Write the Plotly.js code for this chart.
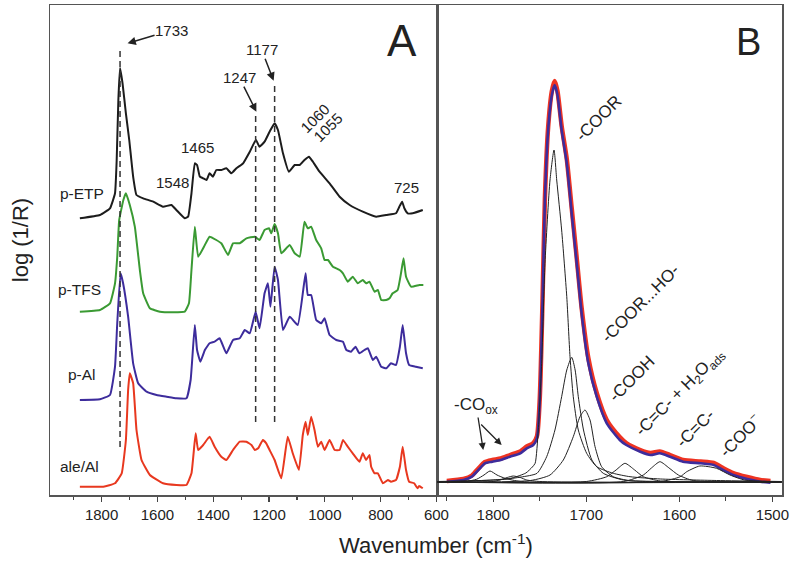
<!DOCTYPE html>
<html>
<head>
<meta charset="utf-8">
<script src="https://cdn.plot.ly/plotly-3.0.1.min.js"></script>
<style>
  body { margin: 0; background: #fff; }
  #myDiv { width: 794px; height: 569px; }
</style>
</head>
<body>
<div id="myDiv"></div>
<script>
// ---- Panel A : spectra, offset, wavenumber (cm-1) / log(1/R) arbitrary units
let wnETP = [1878,1806,1770,1752,1746,1740,1734,1725,1713,1701,1687,1675,1651,1615,1580,1550,1532,1502,1490,1478,1466,1458,1448,1436,1424,1413,1401,1389,1371,1353,1335,1317,1293,1269,1247,1234,1216,1198,1180,1168,1150,1129,1108,1090,1073,1057,1043,1019,983,947,911,864,816,780,745,733,723,715,703,685,649]
let absETP = [276.7,280,286.7,301.7,335,395,427,411.7,381.7,355,318.3,300,296.7,293.3,288.3,290,285,276.7,278.3,301.7,331.7,330,318.3,316.7,315,321.7,318.3,325,325,326.7,321.7,326.7,331.7,343.3,355,348.3,353.3,363.3,371.7,365,341.7,323.3,330,330,335,338.3,333.3,323.3,311.7,298.3,290,283.3,278.3,280,281.7,288.3,293.3,286.7,281.7,281.7,285]

let wnTFS = [1878,1806,1770,1752,1744,1737,1722,1713,1699,1681,1663,1651,1627,1591,1544,1502,1487,1478,1466,1454,1430,1413,1389,1371,1347,1329,1305,1281,1251,1234,1216,1200,1192,1180,1168,1156,1126,1108,1090,1073,1061,1049,1031,1013,1001,989,971,947,935,918,900,882,864,852,840,822,810,798,780,768,757,739,727,718,709,691,661,647]
let absTFS = [183.3,185,191.7,211.7,238.3,275,295,301.7,290,268.3,225,201.7,186.7,183.3,182.7,183.3,191.7,225,268.3,238.3,250,258.3,255,251.7,240,251.7,251.7,256.7,258.3,255,265,266.7,261.7,271,261.7,241.7,250,241.7,238.3,273.3,266.7,268.3,255,246.7,235,235,228.3,225,221.7,213.3,218.3,211.7,215,211.7,213.3,203.3,205,195,195,196.7,201.7,205,221.7,236.7,218.3,208.3,210,210]

let wnAl = [1878,1806,1770,1752,1744,1732,1723,1705,1687,1669,1639,1603,1567,1532,1496,1481,1466,1458,1446,1430,1413,1395,1377,1353,1329,1305,1287,1269,1248,1234,1216,1204,1195,1180,1168,1150,1126,1097,1069,1061,1049,1031,1013,1001,983,959,935,923,906,890,876,858,846,828,816,798,780,763,745,731,721,709,698,674,649]
let absAl = [95,95.7,100,128.3,171.7,221.7,211.7,178.3,131.7,111.7,103.3,100,98.3,96.7,96.7,115,170,145,133.3,145,151.7,153.3,156.7,141.7,155,156.7,165,161.7,183.3,166.7,201.7,211.7,188.3,228.3,215,165,178.3,170,221.7,200,200,175,171.7,176.7,160,155,153.3,145,143.3,148.3,141.7,145,146.7,135,138.3,128.3,126.7,131.7,130,148.3,170,141.7,130,128.3,126.7]

let wnAle = [1878,1794,1752,1728,1713,1705,1699,1687,1675,1657,1627,1580,1532,1496,1478,1463,1454,1436,1413,1395,1371,1353,1329,1305,1281,1263,1251,1239,1222,1210,1198,1180,1156,1133,1115,1093,1079,1069,1061,1049,1037,1025,1013,1001,983,965,947,935,918,900,876,864,852,840,834,822,810,792,774,763,745,731,721,709,698,680,668,662,649]
let absAle = [8.3,8.3,11.7,21.7,55,105,121.7,111.7,65,35,20,11.7,10,10,21.7,61.7,45,50,58.3,48.3,38.3,35,45,53.3,53.3,50,45,46.7,55,51.7,45,35,16.7,58.3,41.7,25,60,73.3,60,78.3,65,48.3,53.3,45,55,45,45,55,48.3,41.7,33.3,41.7,35,40,28.3,21.7,21.7,11.7,15,13.3,15,28.3,48.3,25,13.3,11.7,6.7,9,6.7]

let specNames = ["p-ETP", "p-TFS", "p-Al", "ale/Al"]
let specColors = ["#1c1c1c", "#3a9a33", "#3d2c9c", "#e8381f"]

// dashed marker lines [wavenumber, bottom, top]
let markWn = [1734, 1248, 1180]
let markLow = [48, 73, 73]
let markHigh = [445, 382, 413]

// peak labels in A without arrow
let peakText = ["1465", "1548", "1060", "1055", "725"]
let peakX = [1455, 1545, 1037, 990, 709]
let peakY = [348, 313, 377, 368, 308]
let peakAngle = [0, 0, -45, -45, 0]

// peak labels in A with arrow: head at (x,y), label offset in px
let arrText = ["1733", "1177", "1247"]
let arrHeadX = [1707, 1183.5, 1245.4]
let arrHeadY = [451.7, 414.3, 383.3]
let arrAx = [44, -12, -17]
let arrAy = [-13, -31, -34]

// ---- Panel B : band fit of the carbonyl region
let wnFit = [1850,1832,1823,1816,1809,1801,1792,1782,1771,1764,1757,1753,1750,1747,1744.5,1741,1737,1734,1731,1726.5,1721,1715.7,1710.3,1705,1697.8,1688.8,1678,1664,1657,1642,1631,1621,1610,1596,1577,1563,1553,1542,1527,1513,1502]
let absMeasured = [14,16,19.5,26.5,33,35,36.5,40,43.5,48.5,52,59,97,197,297,368,404,414,404,369,336,287,237,187,137,102,75,58,52,45,42,43.5,40,35,33.5,32,27,22,18,15,14]
let absEnvelope = [13.3,15,18.3,25,31.7,33.3,35,38.3,41.7,46.7,50,57,95,195,295,365,400,410,400,365,331.7,281.7,231.7,181.7,131.7,98.3,71.7,55,50,43.3,40,41.7,38.3,33.3,31.7,30,25,20,16,13.3,12.3]

let band1735Wn = [1860,1800,1780,1765,1758,1755,1751.6,1748,1744.4,1739,1734.7,1731.8,1726.5,1721,1717.5,1714,1708.6,1699.6,1688.8,1671,1653,1620,1560,1490]
let band1735Y = [13.5,15,17,22,28,31.7,65,131.7,231.7,315,345,315,265,198.3,138.3,98.3,65,41.7,28.3,21.7,18.3,16,14.5,13.5]
let band1716Wn = [1860,1790,1770,1753,1742.6,1733.7,1726.5,1721,1715.7,1712,1708.6,1703,1694,1681.7,1660,1620,1490]
let band1716Y = [13,15.5,18,21.7,38.3,65,98.3,125,137.7,125,98.3,65,35,21.7,15,13.5,13]
let band1701Wn = [1860,1760,1739,1724.7,1714,1706.8,1701.4,1696,1690.6,1683.5,1671,1653,1600,1490]
let band1701Y = [13,14.5,20,35,58.3,78.3,85,75,48.3,28.3,18.3,14.3,13,13]
let band1804Wn = [1860,1830,1818,1810,1803.5,1796,1787.4,1770,1490]
let band1804Y = [13,13.5,15.7,20,24,20,16.7,13.5,13]
let band1779Wn = [1860,1800,1792.8,1785,1778.5,1771,1764,1750,1490]
let band1779Y = [13,13.5,15,17.5,19,17.5,15,13.5,13]
let band1658Wn = [1860,1700,1678,1668,1658.4,1648,1638.7,1620,1490]
let band1658Y = [13,13.5,18.3,25,31.7,25,18.3,14,13]
let band1621Wn = [1860,1660,1638.7,1630,1620.8,1611,1601,1585,1490]
let band1621Y = [13,13.5,20,27,33.3,27,20,14.5,13]
let band1578Wn = [1860,1620,1599,1592,1578,1560,1545.5,1530,1510,1490]
let band1578Y = [13,13.5,18.3,23.3,29,26.7,20,15,13.5,13]

let bandText = ["-COOR", "-COOR...HO-", "-COOH", "-C=C- + H<sub>2</sub>O<sub>ads</sub>", "-C=C-", "-COO<sup>−</sup>"]
let bandX = [1687, 1642, 1651, 1599, 1583, 1535]
let bandY = [377, 192, 117, 102, 67, 60]

let fontFam = "Liberation Sans, Arial, sans-serif"

// ---- traces
let data = []
let specWn = [wnETP, wnTFS, wnAl, wnAle]
let specAbs = [absETP, absTFS, absAl, absAle]
for (let i = 0; i < specWn.length; i++){
	data.push({x: specWn[i], y: specAbs[i], mode: 'lines', xaxis: 'x', yaxis: 'y',
		line: {color: specColors[i], width: 2, shape: 'spline', smoothing: 0.35}, hoverinfo: 'skip'})
	}

data.push({x: wnFit, y: absMeasured, mode: 'lines', xaxis: 'x2', yaxis: 'y2',
	line: {color: '#ee3322', width: 4.5, shape: 'spline', smoothing: 0.6}})
data.push({x: wnFit, y: absEnvelope, mode: 'lines', xaxis: 'x2', yaxis: 'y2',
	line: {color: '#3d2c9c', width: 2.6, shape: 'spline', smoothing: 0.6}})

let bandWn = [band1735Wn, band1716Wn, band1701Wn, band1804Wn, band1779Wn, band1658Wn, band1621Wn, band1578Wn]
let bandY2 = [band1735Y, band1716Y, band1701Y, band1804Y, band1779Y, band1658Y, band1621Y, band1578Y]
for (let i = 0; i < bandWn.length; i++){
	data.push({x: bandWn[i], y: bandY2[i], mode: 'lines', xaxis: 'x2', yaxis: 'y2',
		line: {color: '#222', width: 1, shape: 'spline', smoothing: 0.6}})
	}

// ---- shapes (dashed lines)
let shapesArray = []
for (let i = 0; i < markWn.length; i++){
	shapesArray.push({type: 'line', xref: 'x', yref: 'y', x0: markWn[i], x1: markWn[i],
		y0: markLow[i], y1: markHigh[i], line: {color: '#333', width: 1.5, dash: '6px,4px'}})
	}

// ---- annotations
let annos = []
let txtFont = {family: fontFam, size: 15, color: '#222'}

for (let i = 0; i < peakText.length; i++){
	annos.push({xref: 'x', yref: 'y', x: peakX[i], y: peakY[i], text: peakText[i],
		showarrow: false, textangle: peakAngle[i], font: txtFont})
	}
for (let i = 0; i < arrText.length; i++){
	annos.push({xref: 'x', yref: 'y', x: arrHeadX[i], y: arrHeadY[i], ax: arrAx[i], ay: arrAy[i],
		text: arrText[i], font: txtFont, showarrow: true, arrowhead: 2, arrowsize: 1.1,
		arrowwidth: 1.5, arrowcolor: '#222', standoff: 0, borderpad: 0})
	}

let labX = [1872, 1878, 1871, 1878]
let labY = [302, 206, 121, 29]
for (let i = 0; i < specNames.length; i++){
	annos.push({xref: 'x', yref: 'y', x: labX[i], y: labY[i], text: specNames[i],
		showarrow: false, font: {family: fontFam, size: 15.5, color: '#222'}})
	}

for (let i = 0; i < bandText.length; i++){
	annos.push({xref: 'x2', yref: 'y2', x: bandX[i], y: bandY[i], text: bandText[i],
		showarrow: false, textangle: -45, font: {family: fontFam, size: 17, color: '#222'}})
	}
// -COox with its two arrows
annos.push({xref: 'x2', yref: 'y2', x: 1810.8, y: 45, ax: -7, ay: -44, text: '-CO<sub>ox</sub>',
	font: {family: fontFam, size: 17, color: '#222'}, showarrow: true,
	arrowhead: 2, arrowsize: 1.1, arrowwidth: 1.3, arrowcolor: '#222', standoff: 0, borderpad: 0})
annos.push({xref: 'x2', yref: 'y2', x: 1791, y: 50, ax: -22, ay: -22, text: '', showarrow: true,
	arrowhead: 2, arrowsize: 1.1, arrowwidth: 1.3, arrowcolor: '#222', standoff: 0})

// panel letters
annos.push({xref: 'x', yref: 'y', x: 722, y: 455, text: 'A', showarrow: false,
	font: {family: fontFam, size: 44, color: '#222'}})
annos.push({xref: 'x2', yref: 'y2', x: 1526, y: 453, text: 'B', showarrow: false,
	font: {family: fontFam, size: 38, color: '#222'}})

// axis titles
annos.push({xref: 'paper', yref: 'paper', x: 0.527, y: -0.1, text: 'Wavenumber (cm<sup>-1</sup>)',
	showarrow: false, yanchor: 'middle', font: {family: fontFam, size: 22, color: '#222'}})
annos.push({xref: 'paper', yref: 'paper', x: -0.041, y: 0.52, text: 'log (1/R)', textangle: -90,
	showarrow: false, xanchor: 'center', font: {family: fontFam, size: 22, color: '#222'}})

let axisCommon = {
	showgrid: false, zeroline: false, showline: true, mirror: true,
	linecolor: '#555', linewidth: 1.5,
	ticks: 'outside', ticklen: 5, tickwidth: 1.2, tickcolor: '#444',
	tickfont: {family: fontFam, size: 15, color: '#222'}
	}

var layout = {
	width: 794, height: 569,
	margin: {l: 50, r: 12, t: 5, b: 74},
	paper_bgcolor: '#fff', plot_bgcolor: '#fff',
	showlegend: false,
	xaxis: Object.assign({}, axisCommon, {domain: [0, 0.5287], range: [1985, 598], dtick: 200, tick0: 0,
		minor: {dtick: 100, ticks: 'outside', ticklen: 3, tickcolor: '#444'}, anchor: 'y'}),
	yaxis: {domain: [0, 1], range: [0, 490], showticklabels: false, ticks: '', showgrid: false, zeroline: false,
		showline: true, mirror: true, linecolor: '#555', linewidth: 1.5, anchor: 'x'},
	xaxis2: Object.assign({}, axisCommon, {domain: [0.5287, 1], range: [1860.5, 1489.6], dtick: 100, tick0: 0,
		minor: {dtick: 50, ticks: 'outside', ticklen: 4, tickcolor: '#444'}, anchor: 'y2'}),
	yaxis2: {domain: [0, 1], range: [0, 490], showticklabels: false, ticks: '', showgrid: false, zeroline: false,
		showline: true, mirror: true, linecolor: '#555', linewidth: 1.5, anchor: 'x2'},
	shapes: shapesArray,
	annotations: annos
	}

Plotly.newPlot('myDiv', data, layout, {staticPlot: true});
</script>
</body>
</html>
